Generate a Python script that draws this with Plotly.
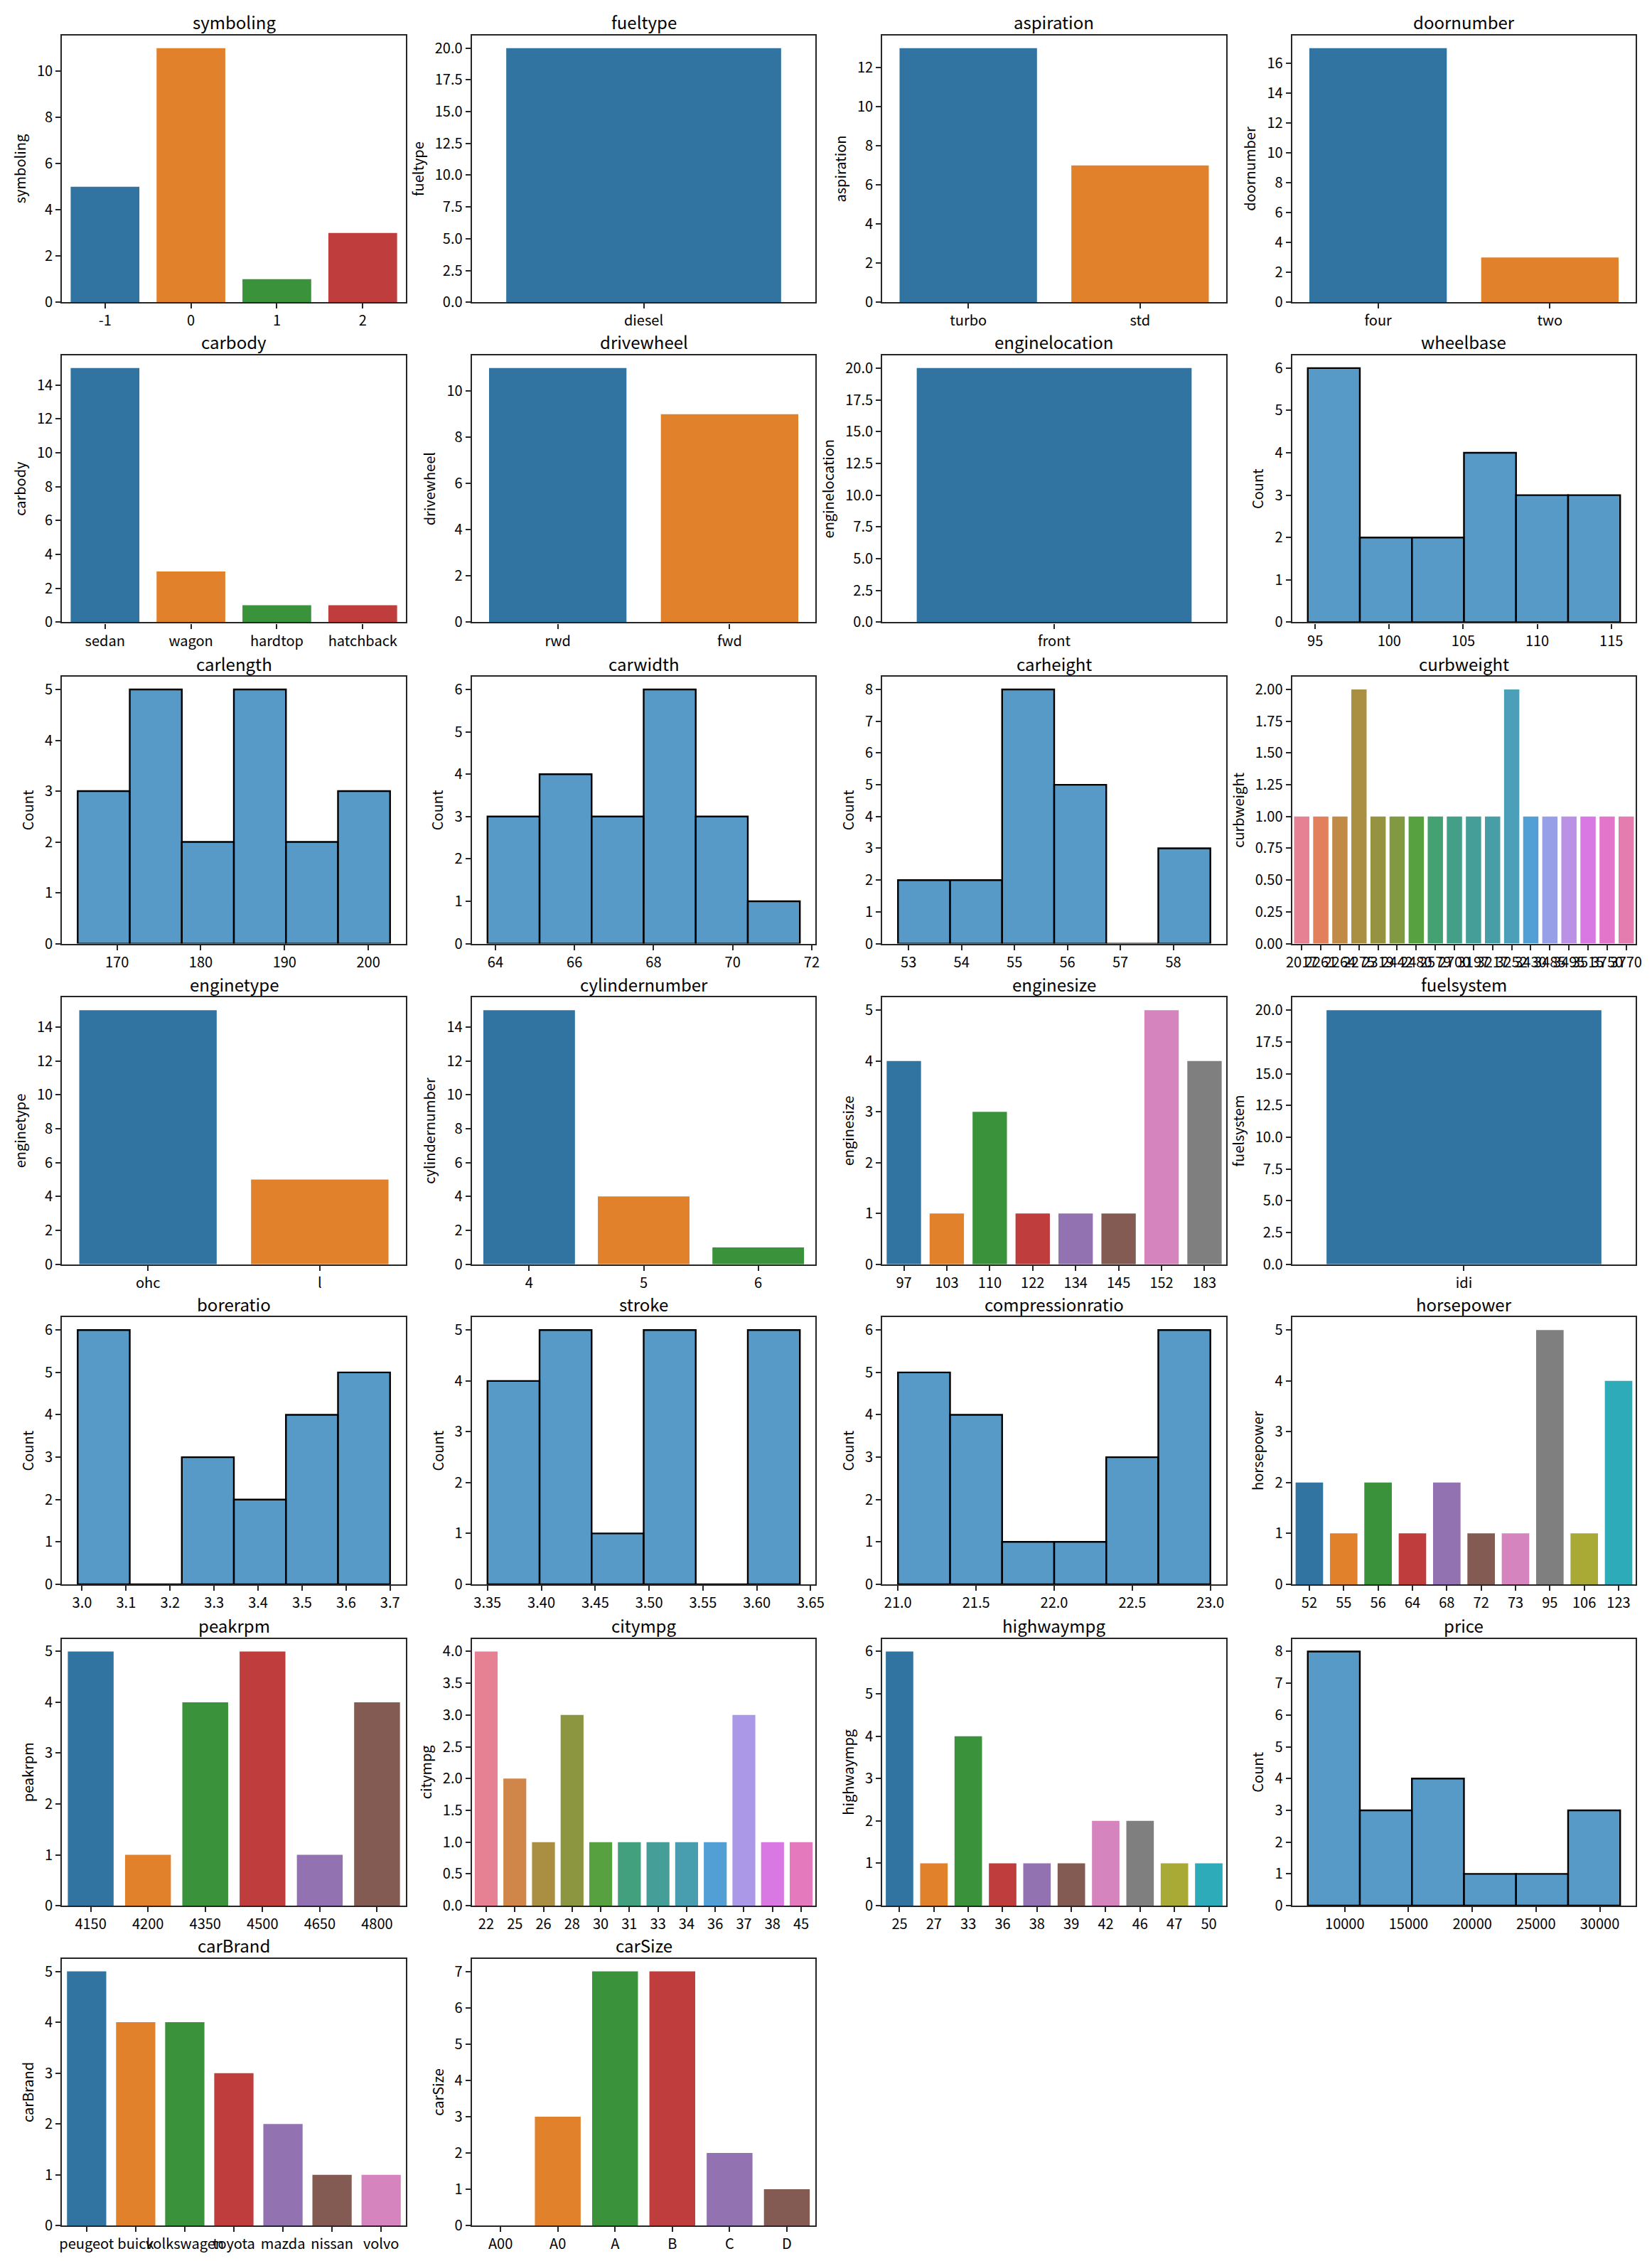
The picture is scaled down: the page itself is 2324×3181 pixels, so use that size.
import math
import colorsys
import numpy as np
import plotly.graph_objects as go

# ---------------- data ----------------
symboling_cats = ["-1", "0", "1", "2"]
symboling_counts = [5, 11, 1, 3]
fueltype_cats = ["diesel"]
fueltype_counts = [20]
aspiration_cats = ["turbo", "std"]
aspiration_counts = [13, 7]
doornumber_cats = ["four", "two"]
doornumber_counts = [17, 3]
carbody_cats = ["sedan", "wagon", "hardtop", "hatchback"]
carbody_counts = [15, 3, 1, 1]
drivewheel_cats = ["rwd", "fwd"]
drivewheel_counts = [11, 9]
enginelocation_cats = ["front"]
enginelocation_counts = [20]
wheelbase_range = [94.5, 115.6]
wheelbase_counts = [6, 2, 2, 4, 3, 3]
carlength_range = [165.3, 202.6]
carlength_counts = [3, 5, 2, 5, 2, 3]
carwidth_range = [63.8, 71.7]
carwidth_counts = [3, 4, 3, 6, 3, 1]
carheight_range = [52.8, 58.7]
carheight_counts = [2, 2, 8, 5, 0, 3]
curbweight_cats = ["2017", "2261", "2264", "2275", "2319", "2442", "2480", "2579", "2700",
                   "3197", "3217", "3252", "3430", "3485", "3495", "3515", "3750", "3770"]
curbweight_counts = [1, 1, 1, 2, 1, 1, 1, 1, 1, 1, 1, 2, 1, 1, 1, 1, 1, 1]
enginetype_cats = ["ohc", "l"]
enginetype_counts = [15, 5]
cylindernumber_cats = ["4", "5", "6"]
cylindernumber_counts = [15, 4, 1]
enginesize_cats = ["97", "103", "110", "122", "134", "145", "152", "183"]
enginesize_counts = [4, 1, 3, 1, 1, 1, 5, 4]
fuelsystem_cats = ["idi"]
fuelsystem_counts = [20]
boreratio_range = [2.99, 3.70]
boreratio_counts = [6, 0, 3, 2, 4, 5]
stroke_range = [3.35, 3.64]
stroke_counts = [4, 5, 1, 5, 0, 5]
compressionratio_range = [21.0, 23.0]
compressionratio_counts = [5, 4, 1, 1, 3, 6]
horsepower_cats = ["52", "55", "56", "64", "68", "72", "73", "95", "106", "123"]
horsepower_counts = [2, 1, 2, 1, 2, 1, 1, 5, 1, 4]
peakrpm_cats = ["4150", "4200", "4350", "4500", "4650", "4800"]
peakrpm_counts = [5, 1, 4, 5, 1, 4]
citympg_cats = ["22", "25", "26", "28", "30", "31", "33", "34", "36", "37", "38", "45"]
citympg_counts = [4, 2, 1, 3, 1, 1, 1, 1, 1, 3, 1, 1]
highwaympg_cats = ["25", "27", "33", "36", "38", "39", "42", "46", "47", "50"]
highwaympg_counts = [6, 1, 4, 1, 1, 1, 2, 2, 1, 1]
price_range = [7099, 31600]
price_counts = [8, 3, 4, 1, 1, 3]
carBrand_cats = ["peugeot", "buick", "volkswagen", "toyota", "mazda", "nissan", "volvo"]
carBrand_counts = [5, 4, 4, 3, 2, 1, 1]
carSize_cats = ["A00", "A0", "A", "B", "C", "D"]
carSize_counts = [0, 3, 7, 7, 2, 1]

# name, kind, x-data, counts, y dtick, y tickformat, x dtick (hist)
panels = [
    ("symboling", "count", symboling_cats, symboling_counts, 2, "d", None),
    ("fueltype", "count", fueltype_cats, fueltype_counts, 2.5, ".1f", None),
    ("aspiration", "count", aspiration_cats, aspiration_counts, 2, "d", None),
    ("doornumber", "count", doornumber_cats, doornumber_counts, 2, "d", None),
    ("carbody", "count", carbody_cats, carbody_counts, 2, "d", None),
    ("drivewheel", "count", drivewheel_cats, drivewheel_counts, 2, "d", None),
    ("enginelocation", "count", enginelocation_cats, enginelocation_counts, 2.5, ".1f", None),
    ("wheelbase", "hist", wheelbase_range, wheelbase_counts, 1, "d", (5, "d")),
    ("carlength", "hist", carlength_range, carlength_counts, 1, "d", (10, "d")),
    ("carwidth", "hist", carwidth_range, carwidth_counts, 1, "d", (2, "d")),
    ("carheight", "hist", carheight_range, carheight_counts, 1, "d", (1, "d")),
    ("curbweight", "count", curbweight_cats, curbweight_counts, 0.25, ".2f", None),
    ("enginetype", "count", enginetype_cats, enginetype_counts, 2, "d", None),
    ("cylindernumber", "count", cylindernumber_cats, cylindernumber_counts, 2, "d", None),
    ("enginesize", "count", enginesize_cats, enginesize_counts, 1, "d", None),
    ("fuelsystem", "count", fuelsystem_cats, fuelsystem_counts, 2.5, ".1f", None),
    ("boreratio", "hist", boreratio_range, boreratio_counts, 1, "d", (0.1, ".1f")),
    ("stroke", "hist", stroke_range, stroke_counts, 1, "d", (0.05, ".2f")),
    ("compressionratio", "hist", compressionratio_range, compressionratio_counts, 1, "d", (0.5, ".1f")),
    ("horsepower", "count", horsepower_cats, horsepower_counts, 1, "d", None),
    ("peakrpm", "count", peakrpm_cats, peakrpm_counts, 1, "d", None),
    ("citympg", "count", citympg_cats, citympg_counts, 0.5, ".1f", None),
    ("highwaympg", "count", highwaympg_cats, highwaympg_counts, 1, "d", None),
    ("price", "hist", price_range, price_counts, 1, "d", (5000, "d")),
    ("carBrand", "count", carBrand_cats, carBrand_counts, 1, "d", None),
    ("carSize", "count", carSize_cats, carSize_counts, 1, "d", None),
]

# ---------------- colours (seaborn style) ----------------
TAB10 = ["#1f77b4", "#ff7f0e", "#2ca02c", "#d62728", "#9467bd",
         "#8c564b", "#e377c2", "#7f7f7f", "#bcbd22", "#17becf"]

_m = [[3.2406, -1.5372, -0.4986], [-0.9689, 1.8758, 0.0415], [0.0557, -0.2040, 1.0570]]
_refU, _refV = 0.19784, 0.46834
_lab_e, _lab_k = 0.008856, 903.3


def _max_chroma(L, H):
    hrad = math.radians(H)
    sinH, cosH = math.sin(hrad), math.cos(hrad)
    sub1 = (L + 16) ** 3 / 1560896.0
    sub2 = sub1 if sub1 > _lab_e else L / _lab_k
    result = float("inf")
    for m1, m2, m3 in _m:
        top = (0.99915 * m1 + 1.05122 * m2 + 1.14460 * m3) * sub2
        rbottom = 0.86330 * m3 - 0.17266 * m2
        lbottom = 0.12949 * m3 - 0.38848 * m1
        bottom = (rbottom * sinH + lbottom * cosH) * sub2
        for t in (0.0, 1.0):
            C = L * (top - 1.05122 * t) / (bottom + 0.17266 * sinH * t)
            if 0.0 < C < result:
                result = C
    return result


def _husl_to_rgb(H, S, L):
    C = _max_chroma(L, H) / 100.0 * S
    hr = math.radians(H)
    U, V = math.cos(hr) * C, math.sin(hr) * C
    t = (L + 16) / 116.0
    varY = t ** 3 if t ** 3 > _lab_e else (116 * t - 16) / _lab_k
    varU = U / (13.0 * L) + _refU
    varV = V / (13.0 * L) + _refV
    Y = varY
    X = 0.0 - (9.0 * Y * varU) / ((varU - 4.0) * varV - varU * varV)
    Z = (9.0 * Y - (15.0 * varV * Y) - (varV * X)) / (3.0 * varV)
    out = []
    for row in _m:
        c = row[0] * X + row[1] * Y + row[2] * Z
        c = 12.92 * c if c <= 0.0031308 else 1.055 * c ** (1 / 2.4) - 0.055
        out.append(min(max(c, 0.0), 1.0))
    return out


def _desat(rgb, prop=0.75):
    h, l, s = colorsys.rgb_to_hls(*rgb)
    r, g, b = colorsys.hls_to_rgb(h, l, s * prop)
    return "#%02x%02x%02x" % (round(r * 255), round(g * 255), round(b * 255))


def _hex_to_rgb(hx):
    return [int(hx[i:i + 2], 16) / 255 for i in (1, 3, 5)]


def palette(n):
    if n <= 10:
        return [_desat(_hex_to_rgb(c)) for c in TAB10[:n]]
    hues = (np.linspace(0, 1, n + 1)[:-1] + 0.01) % 1 * 359
    return [_desat(_husl_to_rgb(h, 0.9 * 99, 0.65 * 99)) for h in hues]


HIST_FILL = "rgba(31,119,180,0.75)"

# ---------------- layout geometry ----------------
W, H = 2324, 3181
col_left = [71, 653, 1236, 1818]
row_top = [42, 494, 948, 1401, 1853, 2307, 2759]
ax_w, ax_h = 488, 377

FONT = "Noto Sans CJK SC, DejaVu Sans, sans-serif"
SPINE = "#262626"

fig = go.Figure()
annotations = []
layout_axes = {}

for i, (name, kind, xdata, counts, ydt, yfmt, xinfo) in enumerate(panels):
    r, c = divmod(i, 4)
    k = "" if i == 0 else str(i + 1)
    x0 = col_left[c] / W
    x1 = (col_left[c] + ax_w) / W
    y1 = 1 - row_top[r] / H
    y0 = 1 - (row_top[r] + ax_h) / H
    ymax = max(counts) * 1.05

    axis_common = dict(showline=True, mirror=True, linecolor=SPINE, linewidth=2.4,
                       ticks="outside", ticklen=7, tickwidth=2, tickcolor=SPINE,
                       showgrid=False, zeroline=False, tickangle=0,
                       tickfont=dict(size=20, color="black", family=FONT))

    if kind == "count":
        n = len(xdata)
        fig.add_trace(go.Bar(x=xdata, y=counts, width=0.8,
                             marker=dict(color=palette(n), line=dict(width=0)),
                             xaxis="x" + k, yaxis="y" + k, showlegend=False))
        xaxis = dict(axis_common, type="category", range=[-0.5, n - 0.5],
                     categoryorder="array", categoryarray=xdata)
        ytitle = name
    else:
        lo, hi = xdata
        nb = len(counts)
        edges = np.linspace(lo, hi, nb + 1)
        centers = (edges[:-1] + edges[1:]) / 2
        bw = (hi - lo) / nb
        fig.add_trace(go.Bar(x=centers, y=counts, width=bw,
                             marker=dict(color=HIST_FILL, line=dict(color="black", width=2.4)),
                             xaxis="x" + k, yaxis="y" + k, showlegend=False))
        pad = 0.05 * (hi - lo)
        xdt, xfmt = xinfo
        xaxis = dict(axis_common, type="linear", range=[lo - pad, hi + pad],
                     tick0=0, dtick=xdt, tickformat=xfmt)
        ytitle = "Count"

    xaxis.update(domain=[x0, x1], anchor="y" + k)
    yaxis = dict(axis_common, domain=[y0, y1], anchor="x" + k, range=[0, ymax],
                 tick0=0, dtick=ydt, tickformat=yfmt,
                 title=dict(text=ytitle, font=dict(size=20, color="black", family=FONT), standoff=10))
    layout_axes["xaxis" + k] = xaxis
    layout_axes["yaxis" + k] = yaxis

    annotations.append(dict(text=name, x=(x0 + x1) / 2, y=y1, xref="paper", yref="paper",
                            xanchor="center", yanchor="middle", yshift=19, showarrow=False,
                            font=dict(size=24, color="black", family=FONT)))

fig.update_layout(
    width=W, height=H,
    margin=dict(l=0, r=0, t=0, b=0),
    paper_bgcolor="white", plot_bgcolor="white",
    showlegend=False, annotations=annotations,
    font=dict(family=FONT, color="black"),
    **layout_axes,
)

fig.write_html("out.html")
